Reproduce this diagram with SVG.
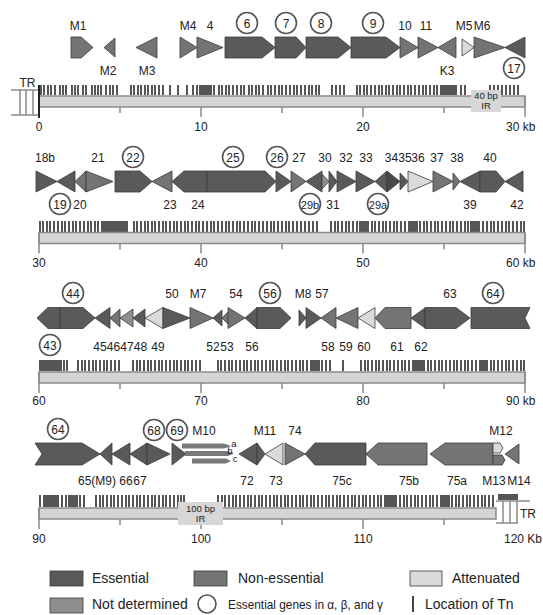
<svg xmlns="http://www.w3.org/2000/svg" width="543" height="615" viewBox="0 0 543 615">
<style>
.e{fill:#5a5a5a}.n{fill:#747474}.d{fill:#8f8f8f}.a{fill:#dadada}
polygon{stroke:#3a3a3a;stroke-width:0.8}
text{font-family:"Liberation Sans",Arial,sans-serif;font-size:12px;fill:#222;text-anchor:middle}
.st{text-anchor:start}
.sm{font-size:9.5px}
.ci{fill:#fff;stroke:#555;stroke-width:1.6}
.bar{fill:#d4d4d4;stroke:#8a8a8a;stroke-width:1.5}
.tk{stroke:#8a8a8a;stroke-width:1.5;fill:none}
.tn{stroke:#555;stroke-width:2;fill:none}
.tb{fill:#555}
.ir{fill:#d7d7d7}
.lg{font-size:14px;text-anchor:start}
.m10{fill:#7a7a7a;stroke:none}
</style>
<rect width="543" height="615" fill="#fff"/>
<g id="connectors"/>

<!-- ===== Row 1 axis ===== -->
<g id="axis1">
<path class="tk" d="M11 90H39M11 115H39M20 90V115M26 90V115M33 90V115"/>
<text x="27.5" y="86.5">TR</text>
<path class="tn" d="M41 85v10M44 85v10M48 85v10M51 85v10M55 85v10M60 85v10M63 85v10M66 85v10M72 85v10M75 85v10M78 85v10M83 85v10M86 85v10M92 85v10M95 85v10M98 85v10M101 85v10M106 85v10M110 85v10M113 85v10M117 85v10M131 85v10M134 85v10M138 85v10M141 85v10M145 85v10M148 85v10M152 85v10M155 85v10M159 85v10M163 85v10M170 85v10M178 85v10M187 85v10M193 85v10M197 85v10M200 85v10M203 85v10M207 85v10M211 85v10M214 85v10M219 85v10M222 85v10M226 85v10M229 85v10M233 85v10M237 85v10M241 85v10M244 85v10M249 85v10M252 85v10M256 85v10M259 85v10M263 85v10M268 85v10M271 85v10M275 85v10M279 85v10M282 85v10M286 85v10M290 85v10M294 85v10M297 85v10M301 85v10M305 85v10M309 85v10M312 85v10M316 85v10M319 85v10M332 85v10M336 85v10M340 85v10M344 85v10M357 85v10M360 85v10M364 85v10M367 85v10M371 85v10M375 85v10M379 85v10M382 85v10M386 85v10M389 85v10M393 85v10M397 85v10M400 85v10M404 85v10M408 85v10M411 85v10M415 85v10M419 85v10M423 85v10M426 85v10M430 85v10M434 85v10M437 85v10M441 85v10M445 85v10M448 85v10M452 85v10M456 85v10M461 85v10M465 85v10M490 85v10M494 85v10M498 85v10M502 85v10M506 85v10M510 85v10M514 85v10M518 85v10"/>
<rect class="tb" x="199" y="85" width="13" height="10"/>
<rect class="tb" x="441" y="85" width="15" height="10"/>
<rect class="bar" x="39" y="96" width="486" height="11"/>
<path class="tk" d="M120 107v6M201 107v10M282 107v6M363 107v10M444 107v6M525 96v21"/>
<path d="M39 85V118" stroke="#222" stroke-width="2"/>
<rect class="ir" x="471" y="90" width="30" height="22"/>
<text class="sm" x="486" y="99">40 bp</text>
<text class="sm" x="486" y="108.5">IR</text>
<text x="39" y="131">0</text>
<text x="201" y="131">10</text>
<text x="363" y="131">20</text>
<text class="st" x="506" y="131">30 kb</text>
</g>

<!-- ===== Row 1 genes ===== -->
<g id="g-M1"><polygon class="n" points="71,37 81,37 93,47.5 81,58 71,58"/><text x="78" y="29.5">M1</text></g>
<g id="g-M2"><polygon class="n" points="104,47.5 115,38 115,57"/><text x="108" y="74.5">M2</text></g>
<g id="g-M3"><polygon class="n" points="136,47.5 157,37 157,58"/><text x="147" y="74.5">M3</text></g>
<g id="g-M4"><polygon class="n" points="180,37 197,47.5 180,58"/><text x="188" y="29.5">M4</text></g>
<g id="g-4"><polygon class="n" points="197,37 223,47.5 197,58"/><text x="210" y="29.5">4</text></g>
<g id="g-6"><polygon class="e" points="225,37 262,37 275,47.5 262,58 225,58"/><circle class="ci" cx="247" cy="23" r="10.5"/><text x="247" y="27.5">6</text></g>
<g id="g-7"><polygon class="e" points="275,37 296,37 306,47.5 296,58 275,58"/><circle class="ci" cx="286" cy="23" r="10.5"/><text x="286" y="27.5">7</text></g>
<g id="g-8"><polygon class="e" points="306,37 338,37 351,47.5 338,58 306,58"/><circle class="ci" cx="321" cy="23" r="10.5"/><text x="321" y="27.5">8</text></g>
<g id="g-9"><polygon class="e" points="351,37 386,37 400,47.5 386,58 351,58"/><circle class="ci" cx="373" cy="23" r="10.5"/><text x="373" y="27.5">9</text></g>
<g id="g-10"><polygon class="n" points="400,37 418,47.5 400,58"/><text x="405" y="29.5">10</text></g>
<g id="g-11"><polygon class="n" points="418,37 438,47.5 418,58"/><text x="426" y="29.5">11</text></g>
<g id="g-K3"><polygon class="n" points="438,47.5 456,37 456,58"/><text x="447" y="74.5">K3</text></g>
<g id="g-M5"><polygon class="a" points="462,39 474,47.5 462,56"/><text x="464" y="29.5">M5</text></g>
<g id="g-M6"><polygon class="n" points="474,37 505,47.5 474,58"/><text x="482" y="29.5">M6</text></g>
<g id="g-17"><polygon class="e" points="505,47.5 525,37 525,58"/><circle class="ci" cx="514" cy="68" r="10.5"/><text x="514" y="72.5">17</text></g>

<!-- ===== Row 2 axis ===== -->
<g id="axis2">
<path class="tn" d="M40 221v11M43 221v11M47 221v11M50 221v11M54 221v11M58 221v11M62 221v11M65 221v11M69 221v11M73 221v11M76 221v11M80 221v11M84 221v11M88 221v11M91 221v11M95 221v11M98 221v11M134 221v11M137 221v11M141 221v11M145 221v11M148 221v11M152 221v11M155 221v11M159 221v11M163 221v11M166 221v11M170 221v11M174 221v11M177 221v11M181 221v11M185 221v11M188 221v11M192 221v11M196 221v11M199 221v11M203 221v11M207 221v11M211 221v11M214 221v11M218 221v11M222 221v11M226 221v11M229 221v11M233 221v11M237 221v11M240 221v11M244 221v11M248 221v11M252 221v11M255 221v11M259 221v11M263 221v11M267 221v11M271 221v11M274 221v11M278 221v11M282 221v11M286 221v11M289 221v11M293 221v11M297 221v11M301 221v11M305 221v11M309 221v11M313 221v11M317 221v11M331 221v11M335 221v11M338 221v11M342 221v11M346 221v11M349 221v11M353 221v11M357 221v11M360 221v11M364 221v11M368 221v11M372 221v11M375 221v11M379 221v11M383 221v11M386 221v11M390 221v11M394 221v11M397 221v11M401 221v11M405 221v11M409 221v11M412 221v11M416 221v11M420 221v11M424 221v11M427 221v11M431 221v11M435 221v11M438 221v11M442 221v11M446 221v11M450 221v11M453 221v11M457 221v11M461 221v11M465 221v11M468 221v11M472 221v11M476 221v11M479 221v11M483 221v11M487 221v11M491 221v11M494 221v11M498 221v11M502 221v11M506 221v11M509 221v11M513 221v11M517 221v11M521 221v11M524 221v11"/>
<rect class="tb" x="101" y="221" width="27" height="11"/>
<rect class="tb" x="359" y="221" width="8" height="11"/>
<rect class="tb" x="410" y="221" width="8" height="11"/>
<rect class="tb" x="470" y="221" width="8" height="11"/>
<rect class="bar" x="39" y="232.5" width="486" height="11"/>
<path class="tk" d="M39 232.5v21M120 243.5v6M201 243.5v10M282 243.5v6M363 243.5v10M444 243.5v6M525 232.5v21"/>
<text x="39" y="267">30</text>
<text x="201" y="267">40</text>
<text x="363" y="267">50</text>
<text class="st" x="506" y="267">60 kb</text>
</g>

<!-- ===== Row 2 genes ===== -->
<g id="g-18b"><polygon class="e" points="36,171 57,181.5 36,192"/><text x="45" y="161.5">18b</text></g>
<g id="g-19"><polygon class="e" points="57,181.5 75,171 75,192"/><circle class="ci" cx="60" cy="204" r="10.5"/><text x="60" y="208.5">19</text></g>
<g id="g-20"><polygon class="n" points="75,181.5 86,171 86,192"/><text x="80" y="208.5">20</text></g>
<g id="g-21"><polygon class="n" points="86,171 113,181.5 86,192"/><text x="98" y="161.5">21</text></g>
<g id="g-22"><polygon class="e" points="115,171 140,171 152,181.5 140,192 115,192"/><circle class="ci" cx="133" cy="157" r="10.5"/><text x="133" y="161.5">22</text></g>
<g id="g-23"><polygon class="n" points="152,181.5 172,171 172,192"/><text x="170" y="208.5">23</text></g>
<g id="g-24"><polygon class="e" points="172,181.5 184,171 207,171 207,192 184,192"/><text x="198" y="208.5">24</text></g>
<g id="g-25"><polygon class="e" points="207,171 265,171 276,181.5 265,192 207,192"/><circle class="ci" cx="233" cy="157" r="10.5"/><text x="233" y="161.5">25</text></g>
<g id="g-26"><polygon class="e" points="276,171 291,181.5 276,192"/><circle class="ci" cx="277" cy="157" r="10.5"/><text x="277" y="161.5">26</text></g>
<g id="g-27"><polygon class="n" points="291,171 306,181.5 291,192"/><text x="299" y="161.5">27</text></g>
<g id="g-29b"><polygon class="e" points="306,181.5 322,171 322,192"/><circle class="ci" cx="310" cy="204" r="10.5"/><text x="310" y="208.5" style="font-size:11px">29b</text></g>
<g id="g-30"><polygon class="d" points="322,174 329,181.5 322,189"/><text x="325" y="161.5">30</text></g>
<g id="g-31"><polygon class="e" points="329,171 337,181.5 329,192"/><text x="333" y="208.5">31</text></g>
<g id="g-32"><polygon class="e" points="337,171 356,181.5 337,192"/><text x="346" y="161.5">32</text></g>
<g id="g-33"><polygon class="e" points="356,171 375,181.5 356,192"/><text x="366" y="161.5">33</text></g>
<g id="g-29a"><polygon class="e" points="375,181.5 387,171 387,192"/><circle class="ci" cx="378" cy="204" r="10.5"/><text x="378" y="208.5" style="font-size:11px">29a</text></g>
<g id="g-34"><polygon class="e" points="387,171 400,181.5 387,192" style="fill:#4a4a4a"/><text x="391.5" y="161.5">34</text></g>
<g id="g-35"><polygon class="e" points="400,173 408,181.5 400,190"/><text x="405" y="161.5">35</text></g>
<g id="g-36"><polygon class="a" points="408,171 433,181.5 408,192"/><text x="418" y="161.5">36</text></g>
<g id="g-37"><polygon class="n" points="433,171 453,181.5 433,192"/><text x="437" y="161.5">37</text></g>
<g id="g-38"><polygon class="n" points="453,173 460,181.5 453,190"/><text x="457" y="161.5">38</text></g>
<g id="g-39"><polygon class="e" points="460,181.5 480,171 480,192"/><text x="470" y="208.5">39</text></g>
<g id="g-40"><polygon class="e" points="480,171 496,171 505,181.5 496,192 480,192"/><text x="490" y="161.5">40</text></g>
<g id="g-42"><polygon class="e" points="505,181.5 523,171 523,192"/><text x="517" y="208.5">42</text></g>

<!-- ===== Row 3 axis ===== -->
<g id="axis3">
<path class="tn" d="M64 360v11M67 360v11M78 360v11M82 360v11M85 360v11M89 360v11M93 360v11M96 360v11M100 360v11M104 360v11M107 360v11M111 360v11M115 360v11M119 360v11M133 360v11M137 360v11M140 360v11M144 360v11M148 360v11M151 360v11M155 360v11M159 360v11M162 360v11M166 360v11M170 360v11M174 360v11M177 360v11M181 360v11M185 360v11M188 360v11M192 360v11M196 360v11M200 360v11M218 360v11M221 360v11M225 360v11M229 360v11M232 360v11M236 360v11M240 360v11M244 360v11M247 360v11M251 360v11M255 360v11M258 360v11M262 360v11M266 360v11M270 360v11M273 360v11M277 360v11M281 360v11M285 360v11M288 360v11M292 360v11M296 360v11M300 360v11M303 360v11M307 360v11M311 360v11M315 360v11M318 360v11M322 360v11M326 360v11M330 360v11M343 360v11M361 360v11M365 360v11M368 360v11M372 360v11M376 360v11M379 360v11M383 360v11M387 360v11M390 360v11M394 360v11M398 360v11M402 360v11M405 360v11M409 360v11M413 360v11M416 360v11M420 360v11M424 360v11M428 360v11M431 360v11M435 360v11M439 360v11M442 360v11M446 360v11M450 360v11M454 360v11M457 360v11M461 360v11M465 360v11M468 360v11M472 360v11M476 360v11M480 360v11M483 360v11M487 360v11M491 360v11M494 360v11M498 360v11M502 360v11M506 360v11M509 360v11M513 360v11M517 360v11M521 360v11M524 360v11"/>
<rect class="tb" x="39" y="360" width="23" height="11"/>
<rect class="tb" x="310" y="360" width="10" height="11"/>
<rect class="tb" x="413" y="360" width="10" height="11"/>
<rect class="tb" x="480" y="360" width="8" height="11"/>
<rect class="bar" x="39" y="372" width="486" height="11"/>
<path class="tk" d="M39 372v21M120 383v6M201 383v10M282 383v6M363 383v10M444 383v6M525 372v21"/>
<text x="39" y="405">60</text>
<text x="201" y="405">70</text>
<text x="363" y="405">80</text>
<text class="st" x="506" y="405">90 kb</text>
</g>

<!-- ===== Row 3 genes ===== -->
<g id="g-43"><polygon class="e" points="37,318 48,307.5 60,307.5 60,328.5 48,328.5"/><circle class="ci" cx="50" cy="345" r="10.5"/><text x="50" y="349.5">43</text></g>
<g id="g-44"><polygon class="e" points="60,307.5 83,307.5 95,318 83,328.5 60,328.5"/><circle class="ci" cx="73" cy="293" r="10.5"/><text x="73" y="297.5">44</text></g>
<g id="g-45"><polygon class="e" points="95,318 110,307.5 110,328.5"/><text x="100" y="350.5">45</text></g>
<g id="g-46"><polygon class="n" points="110,318 120,309 120,327"/><text x="113.5" y="350.5">46</text></g>
<g id="g-47"><polygon class="d" points="120,318 133,309 133,327"/><text x="127" y="350.5">47</text></g>
<g id="g-48"><polygon class="e" points="133,318 145,309 145,327"/><text x="140.5" y="350.5">48</text></g>
<g id="g-49"><polygon class="a" points="145,318 163,307.5 163,328.5"/><text x="158" y="350.5">49</text></g>
<g id="g-50"><polygon class="e" points="163,307.5 190,318 163,328.5"/><text x="172" y="297.5">50</text></g>
<g id="g-M7"><polygon class="n" points="190,307.5 213,318 190,328.5"/><text x="198" y="297.5">M7</text></g>
<g id="g-52"><polygon class="e" points="213,318 222,310 222,326"/><text x="213" y="350.5">52</text></g>
<g id="g-53"><polygon class="n" points="222,318 230,310 230,326"/><text x="227" y="350.5">53</text></g>
<g id="g-54"><polygon class="n" points="228,307.5 245,318 228,328.5"/><text x="236" y="297.5">54</text></g>
<g id="g-56b"><polygon class="e" points="245,318 257,307.5 257,328.5"/><text x="252" y="350.5">56</text></g>
<g id="g-56"><polygon class="e" points="257,307.5 280,307.5 291,318 280,328.5 257,328.5"/><circle class="ci" cx="270" cy="293" r="10.5"/><text x="270" y="297.5">56</text></g>
<g id="g-M8"><polygon class="e" points="299,310 306,318 299,326"/><text x="303" y="297.5">M8</text></g>
<g id="g-57"><polygon class="e" points="306,307.5 321,318 306,328.5"/><text x="322" y="297.5">57</text></g>
<g id="g-58"><polygon class="n" points="321,318 336,307.5 336,328.5"/><text x="328" y="350.5">58</text></g>
<g id="g-59"><polygon class="n" points="336,318 358,307.5 358,328.5"/><text x="346" y="350.5">59</text></g>
<g id="g-60"><polygon class="a" points="358,318 375,307.5 375,328.5"/><text x="364" y="350.5">60</text></g>
<g id="g-61"><polygon class="n" points="375,318 385,307.5 411,307.5 411,328.5 385,328.5"/><text x="397" y="350.5">61</text></g>
<g id="g-62"><polygon class="e" points="411,318 425,308 425,328"/><text x="421" y="350.5">62</text></g>
<g id="g-63"><polygon class="e" points="425,307.5 456,307.5 470,318 456,328.5 425,328.5"/><text x="450" y="297.5">63</text></g>
<g id="g-64a"><polygon class="e" points="471,307.5 530,307.5 525,318 530,328.5 471,328.5"/><circle class="ci" cx="493" cy="293" r="10.5"/><text x="493" y="297.5">64</text></g>

<!-- ===== Row 4 axis ===== -->
<g id="axis4">
<path class="tn" d="M40 495v12M44 495v12M47 495v12M51 495v12M54 495v12M58 495v12M62 495v12M66 495v12M69 495v12M73 495v12M77 495v12M80 495v12M84 495v12M96 495v12M100 495v12M103 495v12M107 495v12M111 495v12M114 495v12M118 495v12M122 495v12M126 495v12M129 495v12M133 495v12M137 495v12M140 495v12M144 495v12M148 495v12M152 495v12M155 495v12M159 495v12M163 495v12M166 495v12M170 495v12M174 495v12M178 495v12M181 495v12M184 495v12M218 495v12M222 495v12M225 495v12M229 495v12M233 495v12M236 495v12M240 495v12M244 495v12M248 495v12M251 495v12M255 495v12M259 495v12M262 495v12M266 495v12M270 495v12M274 495v12M277 495v12M281 495v12M285 495v12M288 495v12M292 495v12M296 495v12M300 495v12M303 495v12M307 495v12M311 495v12M314 495v12M318 495v12M322 495v12M326 495v12M329 495v12M333 495v12M337 495v12M340 495v12M344 495v12M348 495v12M352 495v12M355 495v12M359 495v12M363 495v12M366 495v12M370 495v12M374 495v12M378 495v12M381 495v12M385 495v12M389 495v12M392 495v12M396 495v12M400 495v12M404 495v12M407 495v12M411 495v12M415 495v12M418 495v12M422 495v12M426 495v12M430 495v12M433 495v12M437 495v12M441 495v12M444 495v12M448 495v12M452 495v12M456 495v12M459 495v12M463 495v12M467 495v12M470 495v12M474 495v12M478 495v12M482 495v12M485 495v12M489 495v12M493 495v12"/>
<rect class="tb" x="43" y="495" width="15" height="12"/>
<rect class="tb" x="68" y="495" width="10" height="12"/>
<rect class="tb" x="386" y="495" width="9" height="12"/>
<rect class="tb" x="441" y="495" width="9" height="12"/>
<rect class="tb" x="498" y="494" width="20" height="6"/>
<rect class="bar" x="39" y="508" width="457" height="11"/>
<path class="tk" d="M39 508v21M120 519v6M201 519v10M282 519v6M363 519v10M444 519v6"/>
<path class="tk" d="M496 501H530M496 523H518M503 501V523M510 501V523M517 501V523"/>
<text x="528" y="517.5">TR</text>
<rect class="ir" x="178" y="502" width="45" height="23"/>
<text class="sm" x="200.5" y="511.5">100 bp</text>
<text class="sm" x="200.5" y="521.5">IR</text>
<text x="39" y="543">90</text>
<text x="201" y="543">100</text>
<text x="363" y="543">110</text>
<text class="st" x="504" y="543">120 Kb</text>
</g>

<!-- ===== Row 4 genes ===== -->
<g id="g-64b"><polygon class="e" points="35,443 82,443 100,454 82,465 35,465 42,454"/><circle class="ci" cx="58" cy="429" r="10.5"/><text x="58" y="433.5">64</text></g>
<g id="g-65"><polygon class="e" points="100,454 112,443 112,465"/><text x="97" y="484.5">65(M9)</text></g>
<g id="g-66"><polygon class="e" points="112,454 130,443 130,465"/><text x="126" y="484.5">66</text></g>
<g id="g-67"><polygon class="e" points="130,454 147,443 147,465"/><text x="140" y="484.5">67</text></g>
<g id="g-68"><polygon class="e" points="147,443 170,454 147,465"/><circle class="ci" cx="154" cy="430" r="10.5"/><text x="154" y="434.5">68</text></g>
<g id="g-69"><polygon class="e" points="172,443 186,454 172,465"/><circle class="ci" cx="177" cy="430" r="10.5"/><text x="177" y="434.5">69</text></g>
<g id="g-M10">
<polygon class="m10" points="182,443.5 224,443.5 231,446 224,448.5 182,448.5"/>
<polygon class="m10" points="185,451 228,451 234,453.5 228,456 185,456"/>
<polygon class="m10" points="192,458.5 226,458.5 231,461 226,463.5 192,463.5"/>
<text x="204" y="434.5">M10</text>
<text class="sm" x="234" y="446.5">a</text>
<text class="sm" x="230" y="454">b</text>
<text class="sm" x="235" y="462">c</text>
</g>
<g id="g-72"><polygon class="e" points="239,454 257,443 257,465"/><text x="247" y="484.5">72</text></g>
<g id="g-M11"><polygon class="e" points="257,443 265,454 257,465"/><text x="265" y="434.5">M11</text></g>
<g id="g-73"><polygon class="a" points="265,454 283,443 283,465"/><text x="276" y="484.5">73</text></g>
<g id="g-74"><polygon class="n" points="285,443 305,454 285,465"/><text x="295" y="434.5">74</text></g>
<g id="g-75c"><polygon class="e" points="305,454 315,443 366,443 366,465 315,465"/><text x="342" y="484.5">75c</text></g>
<g id="g-75b"><polygon class="n" points="366,454 378,443 427,443 427,465 378,465"/><text x="409" y="484.5">75b</text></g>
<g id="g-75a"><polygon class="n" points="430,454 445,443 493,443 493,465 445,465"/><text x="457" y="484.5">75a</text></g>
<g id="g-M12"><polygon class="a" points="493,443 500,443 503,448 500,453 493,453"/><text x="501" y="434.5">M12</text></g>
<g id="g-M13"><polygon class="n" points="493,455 502,455 505,460 502,465 493,465"/><text x="494" y="484.5">M13</text></g>
<g id="g-M14"><polygon class="n" points="505,454 519,444 519,464"/><text x="519" y="484.5">M14</text></g>

<!-- ===== Legend ===== -->
<g id="legend">
<rect class="e" x="50" y="571" width="33" height="15" stroke="#3a3a3a" stroke-width="0.8"/>
<text class="lg" x="92" y="583">Essential</text>
<rect class="n" x="194" y="571" width="33" height="15" stroke="#3a3a3a" stroke-width="0.8"/>
<text class="lg" x="238" y="583">Non-essential</text>
<rect class="a" x="410" y="571" width="32" height="15" stroke="#3a3a3a" stroke-width="0.8"/>
<text class="lg" x="452" y="583">Attenuated</text>
<rect class="d" x="50" y="598" width="33" height="15" stroke="#3a3a3a" stroke-width="0.8"/>
<text class="lg" x="92" y="609">Not determined</text>
<circle cx="207" cy="604" r="9" fill="none" stroke="#555" stroke-width="1.6"/>
<text class="lg" x="228" y="609" style="font-size:13px" textLength="155" lengthAdjust="spacingAndGlyphs">Essential genes in α, β, and γ</text>
<path d="M413 596V612" stroke="#444" stroke-width="2"/>
<text class="lg" x="425" y="609">Location of Tn</text>
</g>
</svg>
